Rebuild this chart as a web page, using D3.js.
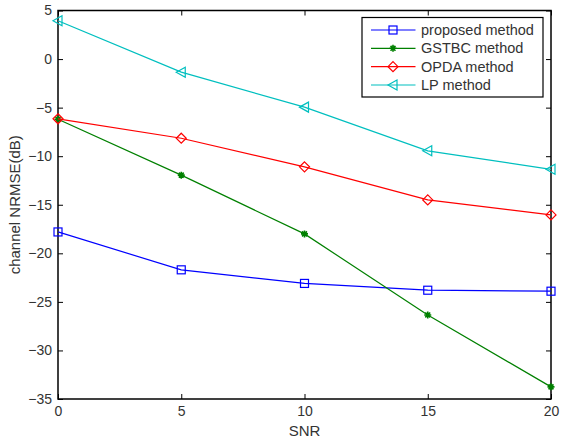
<!DOCTYPE html>
<html><head><meta charset="utf-8">
<script src="https://cdn.jsdelivr.net/npm/d3@7"></script>
<style>body{margin:0;background:#fff}svg{display:block}text{font-family:"Liberation Sans",Arial,sans-serif}</style>
</head><body>
<svg id="c" width="578" height="445"></svg>
<script>
const snr = [0, 5, 10, 15, 20];
const proposed = [-17.8, -21.7, -23.1, -23.8, -23.9];
const gstbc = [-6.2, -11.95, -18.0, -26.35, -33.75];
const opda = [-6.15, -8.15, -11.1, -14.5, -16.05];
const lp = [3.95, -1.35, -4.95, -9.45, -11.35];
const xTicks = [0, 5, 10, 15, 20];
const yTicks = [5, 0, -5, -10, -15, -20, -25, -30, -35];
const seriesNames = ["proposed method", "GSTBC method", "OPDA method", "LP method"];
const seriesColors = ["#0000ff", "#008000", "#ff0000", "#00bfbf"];
const seriesMarkers = ["square", "star", "diamond", "triangle"];
const seriesData = [proposed, gstbc, opda, lp];

const svg = d3.select("#c");
const L = 58, R = 551, T = 10.5, B = 399;
const x = d3.scaleLinear().domain([0, 20]).range([L, R]);
const y = d3.scaleLinear().domain([-35, 5]).range([B, T]);
const TXT = "#333";

const ax = (g) => g.selectAll("text").attr("fill", TXT).style("font-size", "14px");
svg.append("g").attr("transform", `translate(0,${B})`)
  .call(d3.axisBottom(x).tickValues(xTicks).tickSize(-5).tickPadding(7).tickFormat(d => d))
  .call(g => g.select(".domain").remove()).call(ax);
svg.append("g").attr("transform", `translate(0,${T})`)
  .call(d3.axisTop(x).tickValues(xTicks).tickSize(-5).tickFormat(""))
  .call(g => g.select(".domain").remove());
svg.append("g").attr("transform", `translate(${L},0)`)
  .call(d3.axisLeft(y).tickValues(yTicks).tickSize(-5).tickPadding(6).tickFormat(d => d < 0 ? "\u2212" + Math.abs(d) : d))
  .call(g => g.select(".domain").remove()).call(ax);
svg.append("g").attr("transform", `translate(${R},0)`)
  .call(d3.axisRight(y).tickValues(yTicks).tickSize(-5).tickFormat(""))
  .call(g => g.select(".domain").remove());
svg.selectAll(".tick line").attr("stroke", "#000");
svg.selectAll(".tick text").attr("font-family", "Liberation Sans, Arial, sans-serif");

svg.append("rect").attr("x", L).attr("y", T).attr("width", R - L).attr("height", B - T)
  .attr("fill", "none").attr("stroke", "#000").attr("stroke-width", 1.5);

function marker(g, type, cx, cy, color) {
  if (type === "square") {
    g.append("rect").attr("x", cx - 4).attr("y", cy - 4).attr("width", 8).attr("height", 8)
      .attr("fill", "none").attr("stroke", color).attr("stroke-width", 1.2);
  } else if (type === "diamond") {
    g.append("path").attr("d", `M${cx},${cy-5}L${cx+5},${cy}L${cx},${cy+5}L${cx-5},${cy}Z`)
      .attr("fill", "none").attr("stroke", color).attr("stroke-width", 1.2);
  } else if (type === "triangle") {
    g.append("path").attr("d", `M${cx-5},${cy}L${cx+4},${cy-5}L${cx+4},${cy+5}Z`)
      .attr("fill", "none").attr("stroke", color).attr("stroke-width", 1.2);
  } else if (type === "star") {
    const s = 3.5;
    g.append("path").attr("d", `M${cx-s},${cy}L${cx+s},${cy}M${cx},${cy-s}L${cx},${cy+s}M${cx-s*0.7},${cy-s*0.7}L${cx+s*0.7},${cy+s*0.7}M${cx-s*0.7},${cy+s*0.7}L${cx+s*0.7},${cy-s*0.7}`)
      .attr("stroke", color).attr("stroke-width", 1.6);
  }
}

const line = d3.line().x((d, i) => x(snr[i])).y(d => y(d));
seriesData.forEach((vals, k) => {
  const g = svg.append("g");
  g.append("path").datum(vals).attr("d", line).attr("fill", "none")
    .attr("stroke", seriesColors[k]).attr("stroke-width", 1.2);
  vals.forEach((v, i) => marker(g, seriesMarkers[k], x(snr[i]), y(v), seriesColors[k]));
});

const lg = svg.append("g");
lg.append("rect").attr("x", 362).attr("y", 17.5).attr("width", 181).attr("height", 79.5)
  .attr("fill", "#fff").attr("stroke", "#000").attr("stroke-width", 1.2);
const ly = [30, 48.3, 66.7, 85];
seriesNames.forEach((n, k) => {
  lg.append("line").attr("x1", 371).attr("x2", 415.5).attr("y1", ly[k]).attr("y2", ly[k])
    .attr("stroke", seriesColors[k]).attr("stroke-width", 1.2);
  marker(lg, seriesMarkers[k], 393, ly[k], seriesColors[k]);
  lg.append("text").attr("x", 421).attr("y", ly[k]).attr("dy", "0.35em")
    .style("font-size", "14.5px").attr("fill", TXT).text(n);
});

svg.append("text").attr("x", (L + R) / 2).attr("y", 435.5).attr("text-anchor", "middle")
  .style("font-size", "15px").attr("fill", TXT).text("SNR");
svg.append("text").attr("transform", `translate(20,${(T + B) / 2}) rotate(-90)`)
  .attr("text-anchor", "middle").style("font-size", "15px").attr("fill", TXT).text("channel NRMSE(dB)");
</script>
</body></html>
